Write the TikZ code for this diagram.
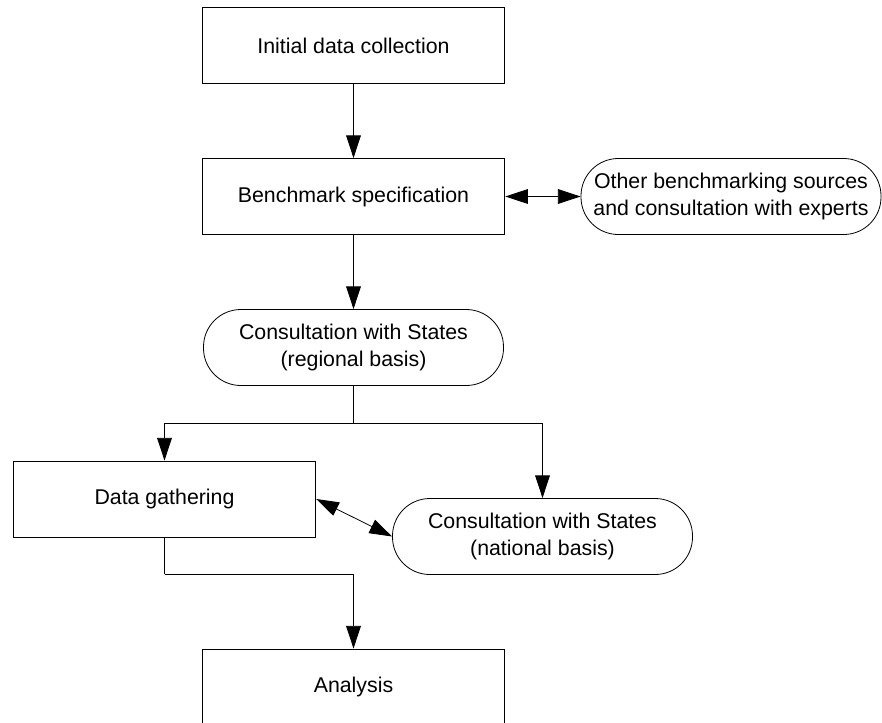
\documentclass[tikz,border=0pt]{standalone}
\usepackage{fontspec}
\setmainfont{Liberation Sans}
\usetikzlibrary{arrows.meta, positioning, calc}

\begin{document}
\begin{tikzpicture}[
    x=0.75pt, y=-0.75pt,
    process/.style={rectangle, draw, minimum width=227pt, minimum height=57pt, align=center, line width=0.6pt, font=\fontsize{16}{20}\selectfont},
    terminal/.style={rectangle, rounded corners=28pt, draw, minimum width=225pt, minimum height=57pt, align=center, line width=0.6pt, font=\fontsize{16}{20}\selectfont},
    transition/.style={-{Triangle[length=17pt, width=11pt]}, line width=0.6pt},
    twoway/.style={{Triangle[length=17pt, width=11pt]}-{Triangle[length=17pt, width=11pt]}, line width=0.6pt},
]
\useasboundingbox (0,0) rectangle (882,722);

\node[process] (initial) at (353.5, 45.5) {Initial data collection};
\node[process] (benchmark) at (353.5, 196.5) {Benchmark specification};
\node[terminal] (sources) at (731, 196.5) {Other benchmarking sources\\and consultation with experts};
\node[terminal] (regional) at (353.5, 347.5) {Consultation with States\\(regional basis)};
\node[process] (gathering) at (164.5, 499) {Data gathering};
\node[terminal] (national) at (542.5, 536.5) {Consultation with States\\(national basis)};
\node[process] (analysis) at (353.5, 687) {Analysis};

\coordinate (split) at (353.5, 423);
\coordinate (merge) at (164.5, 574);

\draw[transition] (initial) -- (benchmark);
\draw[twoway] (benchmark) -- (sources);
\draw[transition] (benchmark) -- (regional);
\draw (regional) -- (split);
\draw[transition] (split) -| (gathering);
\draw[transition] (split) -| (national);
\draw[twoway] (gathering.east) -- (national.west);
\draw (gathering) -- (merge);
\draw[transition] (merge) -| (analysis);

\end{tikzpicture}
\end{document}
